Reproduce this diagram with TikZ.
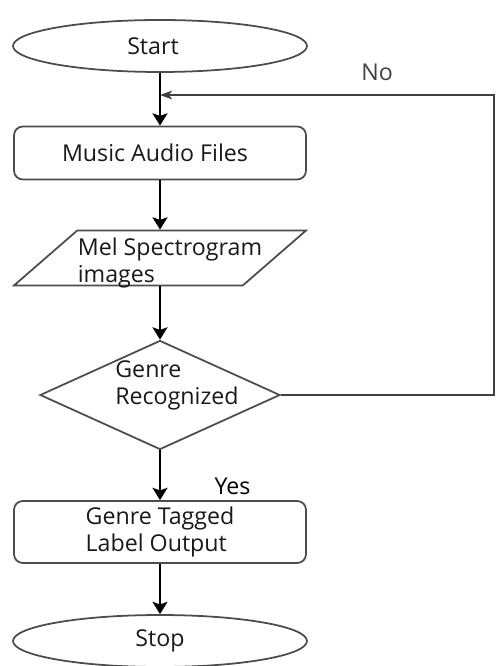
\documentclass[tikz,border=0pt]{standalone}
\usepackage{fontspec}
\setmainfont{Open Sans}
\usetikzlibrary{arrows.meta,positioning,shapes.geometric}

\begin{document}
\begin{tikzpicture}[node distance=2.12cm, text=black!90,
    font=\fontsize{13.2}{15.4}\selectfont,
    terminal/.style={ellipse, draw=black!70, line width=1pt,
      minimum width=5.88cm, minimum height=1.04cm},
    process/.style={rectangle, rounded corners=5pt, draw=black!70,
      line width=1pt, minimum width=5.84cm, minimum height=1.06cm,
      align=left},
    io/.style={trapezium, trapezium left angle=41, trapezium right angle=139,
      draw=black!70, line width=1pt, inner xsep=1.655cm, inner ysep=0.55cm,
      minimum width=0pt, minimum height=0pt},
    decision/.style={diamond, draw=black!70, line width=1pt, inner sep=0pt,
      minimum width=4.8cm, minimum height=2.18cm},
    flow/.style={-{Stealth[length=7pt,width=8.5pt,inset=1.5pt]},
      line width=1.3pt, black},
    backflow/.style={-{Stealth[length=7pt,width=5pt,inset=2pt]},
      line width=0.7pt, black!75}]
  \useasboundingbox (0,0) rectangle (9.94,-13.32);

  \node[terminal] (start) at (3.2,-0.92) {\hspace*{-0.28cm}Start};
  \node[process]  (music) [below of=start, node distance=2.14cm]
    {\hspace*{-0.2cm}Music Audio Files};
  \node[io]       (mel)   [below of=music, node distance=2.1cm,
    label={[align=left,xshift=0.2cm,yshift=-0.1cm]center:Mel Spectrogram\\images}] {};
  \node[decision] (dec)   [below of=mel, node distance=2.74cm,
    label={[align=left,xshift=0.34cm,yshift=0.2cm]center:Genre\\Recognized}] {};
  \node[process]  (tag)   [below of=dec, node distance=2.74cm]
    {Genre Tagged\\Label Output};
  \node[terminal] (stop)  [below of=tag, node distance=2.18cm] {Stop};

  \coordinate (join) at (3.2,-1.9);
  \coordinate (back) at (9.88,-1.9);

  \path[flow] (start) edge (music)
              (music) edge (mel)
              (mel)   edge (dec)
              (dec)   edge node[pos=0.72, right=0.95cm] {Yes} (tag)
              (tag)   edge (stop);
  \draw[backflow] (dec.east) -| (back)
    -- node[pos=0.35, above=0.16cm] {No} (join);
\end{tikzpicture}
\end{document}
